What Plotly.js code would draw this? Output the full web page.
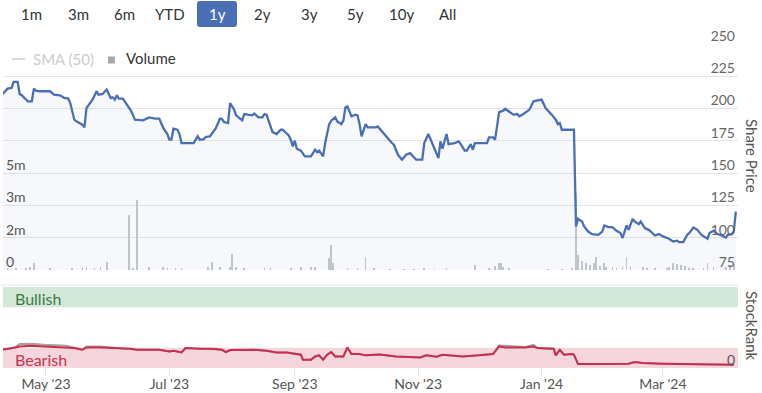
<!DOCTYPE html>
<html><head><meta charset="utf-8">
<script src="https://cdn.plot.ly/plotly-3.0.1.min.js"></script>
<style>html,body{margin:0;padding:0;background:#fff}#chart{width:762px;height:393px}</style>
</head><body><div id="chart"></div>
<script>
// ---------------- DATA ----------------
const priceDates = ['2023-04-09','2023-04-11','2023-04-12','2023-04-14','2023-04-15','2023-04-17','2023-04-18','2023-04-19','2023-04-21','2023-04-22','2023-04-24','2023-04-25','2023-04-26','2023-04-28','2023-05-03','2023-05-05','2023-05-08','2023-05-10','2023-05-12','2023-05-13','2023-05-15','2023-05-16','2023-05-19','2023-05-20','2023-05-21','2023-05-23','2023-05-24','2023-05-26','2023-05-27','2023-05-29','2023-05-30','2023-05-31','2023-06-02','2023-06-03','2023-06-04','2023-06-05','2023-06-06','2023-06-08','2023-06-10','2023-06-12','2023-06-14','2023-06-18','2023-06-21','2023-06-22','2023-06-24','2023-06-26','2023-06-28','2023-06-30','2023-07-01','2023-07-02','2023-07-03','2023-07-05','2023-07-06','2023-07-07','2023-07-11','2023-07-13','2023-07-15','2023-07-16','2023-07-18','2023-07-19','2023-07-21','2023-07-24','2023-07-26','2023-07-27','2023-07-28','2023-07-30','2023-07-31','2023-08-02','2023-08-03','2023-08-06','2023-08-07','2023-08-09','2023-08-11','2023-08-12','2023-08-14','2023-08-16','2023-08-17','2023-08-18','2023-08-20','2023-08-21','2023-08-23','2023-08-25','2023-08-26','2023-08-29','2023-08-30','2023-08-31','2023-09-01','2023-09-02','2023-09-04','2023-09-06','2023-09-09','2023-09-11','2023-09-12','2023-09-13','2023-09-15','2023-09-16','2023-09-18','2023-09-19','2023-09-21','2023-09-22','2023-09-24','2023-09-25','2023-09-26','2023-09-27','2023-09-29','2023-10-01','2023-10-02','2023-10-03','2023-10-04','2023-10-06','2023-10-07','2023-10-11','2023-10-12','2023-10-16','2023-10-17','2023-10-19','2023-10-20','2023-10-22','2023-10-24','2023-10-26','2023-10-28','2023-10-29','2023-10-31','2023-11-03','2023-11-04','2023-11-06','2023-11-07','2023-11-09','2023-11-11','2023-11-12','2023-11-13','2023-11-15','2023-11-16','2023-11-19','2023-11-21','2023-11-22','2023-11-24','2023-11-25','2023-11-27','2023-11-28','2023-11-29','2023-12-05','2023-12-06','2023-12-08','2023-12-09','2023-12-11','2023-12-13','2023-12-14','2023-12-16','2023-12-18','2023-12-20','2023-12-21','2023-12-23','2023-12-26','2023-12-28','2023-12-30','2024-01-01','2024-01-03','2024-01-04','2024-01-06','2024-01-08','2024-01-09','2024-01-10','2024-01-11','2024-01-14','2024-01-17','2024-01-18','2024-01-19','2024-01-21','2024-01-22','2024-01-24','2024-01-26','2024-01-29','2024-01-31','2024-02-01','2024-02-03','2024-02-05','2024-02-07','2024-02-09','2024-02-10','2024-02-12','2024-02-13','2024-02-15','2024-02-16','2024-02-18','2024-02-19','2024-02-21','2024-02-23','2024-02-24','2024-02-26','2024-02-28','2024-03-01','2024-03-04','2024-03-06','2024-03-08','2024-03-09','2024-03-11','2024-03-13','2024-03-14','2024-03-16','2024-03-18','2024-03-20','2024-03-23','2024-03-24','2024-03-26','2024-03-28','2024-03-30','2024-04-01','2024-04-02','2024-04-04','2024-04-05','2024-04-06'];
const priceValues = [210.3,213.4,215.4,216,220.6,220.6,211.3,210.3,206.9,205.6,205.6,215.4,213.9,213.4,213.4,210.8,210.3,208.2,207.7,204.3,191.4,190.1,187.5,185.4,200.4,204.3,206.9,213.4,210.8,211.3,213.4,214.7,208.2,208.7,206.9,210.3,207.7,207.7,203,198.4,191.4,190.9,193.2,192.7,192.2,192.2,184.9,180.3,175.9,175.9,184.4,183.6,180.3,173.3,173.3,173.3,178.5,175.9,176.4,178,178.5,184.9,192.2,191.9,189.6,188.8,204.3,199.2,194.8,190.9,195.8,195.3,194.8,196.1,193.2,193.2,195.8,195.3,186.2,181.8,180.3,183.6,183.6,179.2,175.9,170.7,175.1,168.9,167.4,163,163,168.1,166.3,167.4,163,173.3,188,190.6,193.2,190.1,188,190.6,200.9,201.7,194,195.3,194.8,188,178.5,188,185.4,185.4,186.2,178.5,177.2,173.3,172,164.2,160.4,164.2,165.5,163.7,160.4,160.4,173.3,180.3,176.6,168.1,161.7,174.6,168.9,180.3,172.5,173.3,174.6,172.5,167.4,167.4,172.5,168.1,173.3,173.3,177.7,177.7,175.9,197.3,198.4,199.9,197.3,195.3,195.8,194,195.8,199.2,205.6,206.1,206.9,200.4,198.4,195.3,191.4,188,188.8,183.6,183.6,183.6,108.7,114.6,112.6,108.7,104.8,102.8,102.2,104.8,109.5,108.2,108.2,105.4,103.6,99.7,109.5,106.1,114.6,112.6,110.5,112.6,107.4,106.1,104.8,101.7,102.8,101,99.2,97.1,97.7,96.6,96.6,102.3,103.6,107.9,106.1,102.2,99.2,103.6,105.4,102.8,101.7,100.1,102.2,102.8,104.8,120.2];

const volumeDates = ['2023-04-12','2023-04-16','2023-04-21','2023-04-23','2023-04-25','2023-05-03','2023-05-14','2023-05-19','2023-05-21','2023-05-25','2023-05-28','2023-05-31','2023-06-11','2023-06-13','2023-06-15','2023-06-21','2023-06-28','2023-06-30','2023-07-04','2023-07-07','2023-07-20','2023-07-22','2023-07-26','2023-07-31','2023-08-01','2023-08-03','2023-08-07','2023-08-17','2023-08-20','2023-08-30','2023-09-04','2023-09-09','2023-09-11','2023-09-18','2023-09-19','2023-09-20','2023-09-27','2023-10-02','2023-10-06','2023-10-10','2023-10-18','2023-10-25','2023-10-30','2023-11-04','2023-11-09','2023-11-15','2023-11-29','2023-12-06','2023-12-09','2023-12-11','2023-12-12','2023-12-13','2023-12-16','2024-01-04','2024-01-11','2024-01-16','2024-01-18','2024-01-19','2024-01-21','2024-01-23','2024-01-25','2024-01-27','2024-01-28','2024-01-30','2024-02-01','2024-02-02','2024-02-05','2024-02-07','2024-02-10','2024-02-12','2024-02-14','2024-02-20','2024-02-22','2024-02-26','2024-03-03','2024-03-04','2024-03-06','2024-03-08','2024-03-10','2024-03-12','2024-03-14','2024-03-16','2024-03-21','2024-03-23','2024-03-26','2024-04-01','2024-04-03','2024-04-05'];
const volumeValues = [80000,80000,80000,130000,360000,80000,80000,80000,130000,80000,130000,410000,2720000,80000,3470000,130000,130000,80000,80000,80000,130000,410000,130000,130000,790000,130000,80000,80000,80000,80000,130000,130000,130000,580000,1240000,330000,80000,80000,660000,80000,50000,50000,50000,80000,50000,80000,250000,80000,200000,330000,360000,165000,80000,50000,50000,80000,3800000,740000,460000,330000,250000,330000,660000,200000,360000,165000,130000,80000,130000,660000,200000,130000,80000,80000,80000,130000,330000,300000,250000,200000,80000,80000,80000,360000,130000,165000,250000,300000];

const rankDates = ['2023-04-09','2023-04-13','2023-04-16','2023-04-18','2023-04-24','2023-04-30','2023-05-11','2023-05-15','2023-05-19','2023-05-21','2023-05-28','2023-06-05','2023-06-12','2023-06-15','2023-06-26','2023-07-01','2023-07-03','2023-07-07','2023-07-09','2023-07-16','2023-07-23','2023-07-27','2023-07-29','2023-07-31','2023-08-08','2023-08-12','2023-08-18','2023-08-23','2023-08-28','2023-08-31','2023-09-04','2023-09-05','2023-09-09','2023-09-11','2023-09-13','2023-09-15','2023-09-17','2023-09-19','2023-09-21','2023-09-25','2023-09-27','2023-09-29','2023-10-03','2023-10-06','2023-10-13','2023-10-21','2023-11-02','2023-11-05','2023-11-10','2023-11-13','2023-11-23','2023-12-01','2023-12-08','2023-12-11','2023-12-14','2023-12-24','2023-12-28','2023-12-30','2024-01-04','2024-01-07','2024-01-08','2024-01-10','2024-01-12','2024-01-16','2024-01-17','2024-01-19','2024-01-28','2024-02-13','2024-02-16','2024-02-20','2024-03-01','2024-03-18','2024-03-26','2024-04-05'];
const rankValues = [22.5,23.7,25.4,26.6,27.4,26.6,25.4,24.6,22.5,25.4,25.4,24.6,23.7,22.5,22.5,20.4,21.3,19.2,24.6,23.7,23.7,22.5,19.7,22.1,22.1,22.5,21.3,19.2,19.2,17.6,16.4,10.2,10.2,14.3,15.6,10.2,16.4,19.7,14.3,14.3,25.4,17.2,17.2,15.6,16.8,14.3,13.1,15.6,13.9,16.4,14.3,15.6,17.2,26.6,25.4,25.4,26.6,24.6,23.7,23.7,15.6,22.5,16.4,17.2,16.4,4.9,4.9,5.3,7.3,6.1,5.3,4.9,4.1,4.1];
const rankAltValues = [22.5,23.7,26.0,29.5,29.9,28.6,27.4,25.4,22.5,26.6,26.6,24.6,23.7,22.5,22.5,20.4,21.3,19.2,24.6,23.7,23.7,22.5,19.7,22.1,22.1,22.5,21.3,19.2,19.2,17.6,16.4,10.2,10.2,14.3,15.6,10.2,16.4,19.7,14.3,14.3,25.4,17.2,17.2,15.6,16.8,14.3,13.1,15.6,13.9,16.4,14.3,15.6,17.2,27.8,27.4,26.0,28.6,24.6,23.7,23.7,15.6,22.5,16.4,17.2,16.4,4.9,4.9,5.3,7.3,6.1,5.3,4.9,4.1,4.1];

const rangeButtons = ['1m','3m','6m','YTD','1y','2y','3y','5y','10y','All'];
const activeButton = '1y';
const volumeTickVals = [0, 1600000, 3200000, 4800000];
const volumeTickText = ['0', '2m', '3m', '5m'];
const rankTickVals = [0];
const rankTickText = ['0'];

// ---------------- LAYOUT HELPERS ----------------
const W = 762, H = 393, ML = 3, MR = 24, MT = 44, MB = 25;
const PW = W - ML - MR, PH = H - MT - MB;
const px = x => (x - ML) / PW;          // pixel x -> paper
const py = y => (H - MB - y) / PH;      // pixel y -> paper
const FONT = 'Lato, "Open Sans", sans-serif';

const buttonCenters = [32, 78, 124, 170, 217, 262.5, 309, 355, 402, 447];

const traces = [
  {
    type: 'bar', x: volumeDates, y: volumeValues, xaxis: 'x', yaxis: 'y',
    marker: {color: '#c6c8ce', line: {width: 0}}, width: 0.85 * 86400000,
    hoverinfo: 'skip', showlegend: false
  },
  {
    type: 'scatter', mode: 'lines', x: priceDates, y: priceValues, xaxis: 'x', yaxis: 'y2',
    line: {color: '#4a6fb5', width: 2.3}, fill: 'tozeroy', fillcolor: 'rgba(74,111,181,0.05)',
    showlegend: false, hoverinfo: 'skip'
  },
  {
    type: 'scatter', mode: 'lines', x: rankDates, y: rankAltValues, xaxis: 'x', yaxis: 'y3',
    line: {color: '#a3a3a3', width: 2}, showlegend: false, hoverinfo: 'skip'
  },
  {
    type: 'scatter', mode: 'lines', x: rankDates, y: rankValues, xaxis: 'x', yaxis: 'y3',
    line: {color: '#cc2d4e', width: 2}, showlegend: false, hoverinfo: 'skip'
  }
];

const shapes = [
  {type: 'rect', xref: 'paper', yref: 'y3', x0: 0, x1: 1, y0: 75, y1: 100, fillcolor: '#d4e8da', line: {width: 0}, layer: 'below'},
  {type: 'rect', xref: 'paper', yref: 'y3', x0: 0, x1: 1, y0: 0, y1: 25, fillcolor: '#f5d6dd', line: {width: 0}, layer: 'below'},
  {type: 'line', xref: 'paper', yref: 'paper', x0: px(0), x1: 1, y0: py(285), y1: py(285), line: {color: '#e6e6e6', width: 1}},
  {type: 'line', xref: 'paper', yref: 'paper', x0: px(12), x1: px(25), y0: py(59), y1: py(59), line: {color: '#cccccc', width: 1.5}},
  {type: 'rect', xref: 'paper', yref: 'paper', x0: px(108), x1: px(115), y0: py(63.5), y1: py(56.5), fillcolor: '#a8a8a8', line: {width: 0}}
];

(function () {
  const i = rangeButtons.indexOf(activeButton);
  const cx = buttonCenters[i], x0 = cx - 20, x1 = cx + 20, y0 = 1, y1 = 27, r = 3;
  const P = (x, y) => px(x) + ',' + py(y);
  const path = 'M' + P(x0 + r, y0) + ' L' + P(x1 - r, y0) + ' Q' + P(x1, y0) + ' ' + P(x1, y0 + r) +
    ' L' + P(x1, y1 - r) + ' Q' + P(x1, y1) + ' ' + P(x1 - r, y1) + ' L' + P(x0 + r, y1) +
    ' Q' + P(x0, y1) + ' ' + P(x0, y1 - r) + ' L' + P(x0, y0 + r) + ' Q' + P(x0, y0) + ' ' + P(x0 + r, y0) + ' Z';
  shapes.push({type: 'path', xref: 'paper', yref: 'paper', path: path, fillcolor: '#4a6fb5', line: {width: 0}});
})();

const annotations = rangeButtons.map((b, i) => ({
  xref: 'paper', yref: 'paper', x: px(buttonCenters[i]), y: py(14), xanchor: 'center', yanchor: 'middle',
  text: b, showarrow: false, font: {family: FONT, size: 15, color: b === activeButton ? '#ffffff' : '#333333'}
}));
annotations.push(
  {xref: 'paper', yref: 'paper', x: px(31), y: py(59), xanchor: 'left', yanchor: 'middle', text: 'SMA (50)', showarrow: false, font: {family: FONT, size: 15, color: '#cccccc'}},
  {xref: 'paper', yref: 'paper', x: px(124), y: py(58), xanchor: 'left', yanchor: 'middle', text: 'Volume', showarrow: false, font: {family: FONT, size: 15, color: '#333333'}},
  {xref: 'paper', yref: 'paper', x: px(13), y: py(298), xanchor: 'left', yanchor: 'middle', text: 'Bullish', showarrow: false, font: {family: FONT, size: 16, color: '#3c7a44'}},
  {xref: 'paper', yref: 'paper', x: px(13), y: py(359), xanchor: 'left', yanchor: 'middle', text: 'Bearish', showarrow: false, font: {family: FONT, size: 16, color: '#c8334f'}},
  {xref: 'paper', yref: 'paper', x: px(752), y: py(156), xanchor: 'center', yanchor: 'middle', text: 'Share Price', textangle: 90, showarrow: false, font: {family: FONT, size: 15, color: '#555555'}},
  {xref: 'paper', yref: 'paper', x: px(752), y: py(326), xanchor: 'center', yanchor: 'middle', text: 'StockRank', textangle: 90, showarrow: false, font: {family: FONT, size: 15, color: '#555555'}}
);

const layout = {
  width: W, height: H,
  margin: {l: ML, r: MR, t: MT, b: MB, pad: 0},
  paper_bgcolor: '#ffffff', plot_bgcolor: 'rgba(0,0,0,0)',
  font: {family: FONT, size: 14, color: '#555555'},
  showlegend: false,
  bargap: 0,
  xaxis: {
    type: 'date', anchor: 'y3', range: ['2023-04-09 18:00', '2024-04-07 02:00'],
    tick0: '2023-05-01', dtick: 'M2', tickformat: "%b '%y",
    ticks: 'outside', ticklen: 7, tickcolor: '#dde2ea', tickwidth: 1, ticklabelstandoff: -4,
    showgrid: false, zeroline: false, showline: false,
    tickfont: {family: FONT, size: 14, color: '#555555'}
  },
  yaxis: {
    domain: [py(270), 1], range: [0, 11170000], side: 'left',
    tickvals: volumeTickVals, ticktext: volumeTickText,
    ticklabelposition: 'inside', ticklabelshift: -8, ticklabeloverflow: 'allow', ticks: '',
    showgrid: false, zeroline: false, showline: false,
    tickfont: {family: FONT, size: 14, color: '#555555'}
  },
  yaxis2: {
    overlaying: 'y', side: 'right', range: [75, 250], dtick: 25, tick0: 0,
    ticklabelposition: 'inside', ticklabelshift: -8, ticklabeloverflow: 'allow', ticks: '',
    showgrid: true, gridcolor: '#e6e6e6', gridwidth: 1, zeroline: false, showline: false,
    tickfont: {family: FONT, size: 14, color: '#666666'}
  },
  yaxis3: {
    domain: [0, py(287)], range: [0, 100], side: 'right',
    tickvals: rankTickVals, ticktext: rankTickText,
    ticklabelposition: 'inside', ticklabelshift: -8, ticklabeloverflow: 'allow', ticks: '',
    showgrid: false, zeroline: false, showline: false,
    tickfont: {family: FONT, size: 14, color: '#555555'}
  },
  shapes: shapes,
  annotations: annotations
};

Plotly.newPlot('chart', traces, layout, {displayModeBar: false, staticPlot: true});
</script>
</body></html>
